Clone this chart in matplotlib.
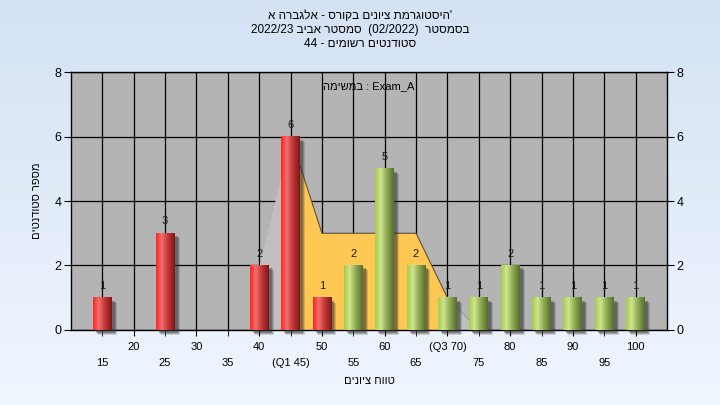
import re
import numpy as np
import matplotlib
matplotlib.use("Agg")
import matplotlib.pyplot as plt
from matplotlib.colors import LinearSegmentedColormap
from matplotlib.patches import Rectangle
from matplotlib.transforms import ScaledTranslation

plt.rcParams['font.family'] = ['Liberation Sans', 'DejaVu Sans']

# grade bins and student counts per bin
grades = [15, 20, 25, 30, 35, 40, 45, 50, 55, 60, 65, 70, 75, 80, 85, 90, 95, 100]
counts = [1, 0, 3, 0, 0, 2, 6, 1, 2, 5, 2, 1, 1, 2, 1, 1, 1, 1]
tick_labels = ['15', '20', '25', '30', '35', '40', '(Q1 45)', '50', '55', '60',
               '65', '(Q3 70)', '75', '80', '85', '90', '95', '100']
fail_limit = 50  # bins up to here drawn red

# background area (quartile band)
area_grades = [40, 45, 50, 55, 60, 65, 70, 75]
area_vals = [2, 6, 3, 3, 3, 3, 1, 0]
q1, q3 = 45, 70

# texts in logical (reading) order
title_lines = ["היסטוגרמת ציונים בקורס - אלגברה א'",
               "בסמסטר  (02/2022)  סמסטר אביב 2022/23",
               "סטודנטים רשומים - 44"]
note_text = "במשימה : Exam_A"
xlabel = "טווח ציונים"
ylabel = "מספר סטודנטים"


def rtl(s):
    """Reverse a right-to-left run, keeping numbers/latin words in order."""
    out = s[::-1]
    out = re.sub(r'[0-9A-Za-z_][0-9A-Za-z_/.]*[0-9A-Za-z_]|[0-9A-Za-z_]',
                 lambda m: m.group(0)[::-1], out)
    return out.translate(str.maketrans('()', ')('))


def visual(s):
    """Crude bidi for a left-to-right paragraph: matplotlib has no bidi support."""
    m = re.search(r'[\u0590-\u05ff].*[\u0590-\u05ff0-9]|[\u0590-\u05ff]', s)
    if not m:
        return s
    return s[:m.start()] + rtl(m.group(0)) + s[m.end():]


fig = plt.figure(figsize=(7.2, 4.05), dpi=100)

# light blue gradient background
bg = fig.add_axes([0, 0, 1, 1], zorder=-10)
bg_cmap = LinearSegmentedColormap.from_list('bg', ['#d4e2f4', '#f0f6fe'])
bg.imshow(np.linspace(0, 1, 256).reshape(-1, 1), cmap=bg_cmap, aspect='auto',
          extent=[0, 1, 0, 1])
bg.axis('off')

ax = fig.add_axes([0.0986, 0.1852, 0.8278, 0.637])
ax.set_facecolor('#b4b4b4')

idx = np.arange(len(grades))

# area behind the bars
ax_idx = np.array([grades.index(g) for g in area_grades])
av = np.array(area_vals, dtype=float)
i1, i3 = grades.index(q1), grades.index(q3)
ax.fill_between(ax_idx, av, where=(ax_idx <= i1), color='#c0c0c0', lw=0, zorder=2)
ax.fill_between(ax_idx, av, where=(ax_idx >= i3), color='#c0c0c0', lw=0, zorder=2)
ax.fill_between(ax_idx, av, where=(ax_idx >= i1) & (ax_idx <= i3),
                color='#ffc853', lw=0, zorder=2)
mid = (ax_idx >= i1) & (ax_idx <= i3)
ax.plot(ax_idx[mid], av[mid], color='#5a5040', lw=0.8, zorder=2.1)
ax.plot(ax_idx[ax_idx >= i3], av[ax_idx >= i3], color='#999999', lw=0.7, zorder=2.1)

# bars: invisible patches from the library, painted with a cylinder gradient
bars = ax.bar(idx, counts, width=0.6, color='none', zorder=4)
red_cmap = LinearSegmentedColormap.from_list(
    'red', [(0, '#ff2424'), (0.3, '#f27070'), (0.6, '#c83a3a'), (1, '#7c1818')])
green_cmap = LinearSegmentedColormap.from_list(
    'green', [(0, '#a6cc4e'), (0.3, '#cfe490'), (0.6, '#93af58'), (1, '#566e2c')])
grad = np.linspace(0, 1, 64).reshape(1, -1)

for g, b in zip(grades, bars):
    h = b.get_height()
    if h <= 0:
        continue
    x0, w = b.get_x(), b.get_width()
    # soft drop shadow
    for k, a in [(5, 0.18), (4, 0.25), (3, 0.35)]:
        off = ScaledTranslation(k / 100, -k / 100, fig.dpi_scale_trans)
        ax.add_patch(Rectangle((x0, 0), w, h, transform=ax.transData + off,
                               color='#303030', alpha=a, lw=0, zorder=3,
                               clip_on=False))
    ax.imshow(grad, extent=[x0, x0 + w, 0, h], aspect='auto',
              cmap=red_cmap if g <= fail_limit else green_cmap, zorder=4)
    ax.annotate(str(int(h)), (b.get_x() + w / 2, h), xytext=(0, 5),
                textcoords='offset points', ha='center', va='bottom',
                fontsize=8, color='#1a1a1a', zorder=5)

ax.set_xlim(-1, len(grades))
ax.set_ylim(0, 8)
ax.set_aspect('auto')

# staggered x labels: odd bins on the first row, even bins on the second
ax.set_xticks(idx[1::2], [tick_labels[i] for i in idx[1::2]])
ax.set_xticks(idx[0::2], [tick_labels[i] for i in idx[0::2]], minor=True)
ax.tick_params(axis='x', which='major', pad=5, labelsize=8, length=4, direction='out')
ax.tick_params(axis='x', which='minor', pad=16, labelsize=8, length=4, direction='out')
ax.set_yticks([0, 2, 4, 6, 8])
ax.tick_params(axis='y', labelsize=9, length=5, direction='out', right=True,
               labelright=True, pad=2)

ax.grid(which='both', color='black', lw=0.9, zorder=1)
ax.set_axisbelow(True)
for s in ax.spines.values():
    s.set_color('black')
    s.set_linewidth(1)

ax.set_xlabel(visual(xlabel), fontsize=8, labelpad=6)
ax.set_ylabel(visual(ylabel), fontsize=8, labelpad=9, rotation=90)

for i, line in enumerate(title_lines):
    fig.text(0.5, 1 - (16 + 14 * i) / 405, visual(line), ha='center',
             va='center', fontsize=8.5)
ax.text(0.5, 0.945, visual(note_text), transform=ax.transAxes, ha='center',
        va='center', fontsize=8, zorder=6)

fig.savefig('out.png', dpi=100)
